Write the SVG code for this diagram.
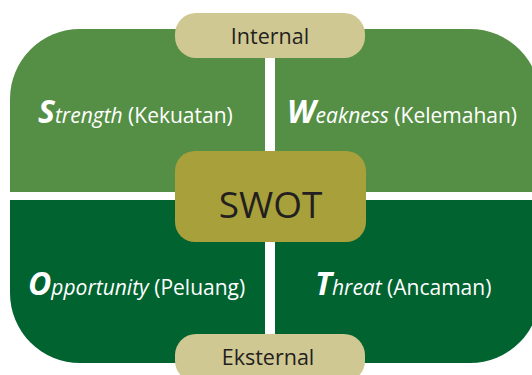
<svg xmlns="http://www.w3.org/2000/svg" width="532" height="375" viewBox="0 0 532 375">
<style>
.q{font-family:"Open Sans","Noto Sans",sans-serif;fill:#ffffff;font-size:21px}
.big{font-weight:bold;font-style:italic;font-size:32px}
.it{font-style:italic}
.pill{fill:#D0C893}
.pt{font-family:"Open Sans","Noto Sans",sans-serif;fill:#231F20;font-size:21.5px;text-anchor:middle}
</style>
<rect width="532" height="375" fill="#ffffff"/>
<g id="strength">
<path d="M10,192 V99 A70,70 0 0 1 80,29 H265 V192 Z" fill="#558F45"/>
<text class="q" x="38" y="123"><tspan class="big">S</tspan><tspan class="it">trength</tspan> (Kekuatan)</text>
</g>
<g id="weakness">
<path d="M275,192 V29 H470 A70,70 0 0 1 540,99 V192 Z" fill="#558F45"/>
<text class="q" x="287" y="123"><tspan class="big">W</tspan><tspan class="it">eakness</tspan> (Kelemahan)</text>
</g>
<g id="opportunity">
<path d="M10,200 V293 A70,70 0 0 0 80,363 H265 V200 Z" fill="#006330"/>
<text class="q" x="28" y="295"><tspan class="big">O</tspan><tspan class="it">pportunity</tspan> (Peluang)</text>
</g>
<g id="threat">
<path d="M275,200 V363 H470 A70,70 0 0 0 540,293 V200 Z" fill="#006330"/>
<text class="q" x="315" y="295"><tspan class="big">T</tspan><tspan class="it">hreat</tspan> (Ancaman)</text>
</g>
<g id="internal">
<rect class="pill" x="175" y="13" width="190" height="45" rx="21"/>
<text class="pt" x="270" y="44">Internal</text>
</g>
<g id="eksternal">
<rect class="pill" x="175" y="334" width="190" height="48" rx="21"/>
<text class="pt" x="268" y="365">Eksternal</text>
</g>
<g id="swot">
<rect x="175" y="151" width="191" height="91" rx="20" fill="#A8A03A"/>
<text class="pt" x="270.5" y="218" style="font-size:37px">SWOT</text>
</g>
<g id="connectors"></g>
</svg>
